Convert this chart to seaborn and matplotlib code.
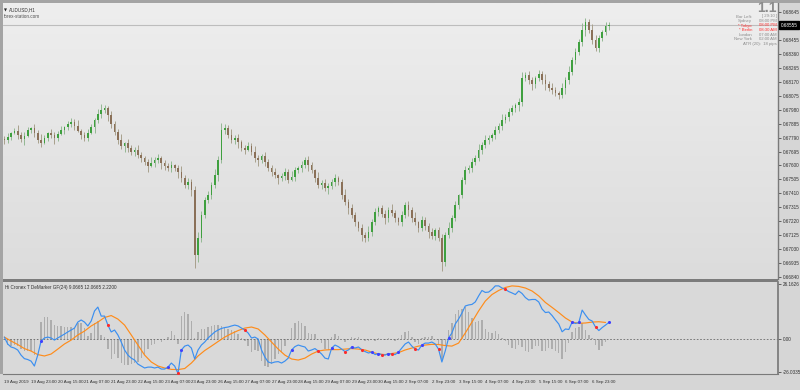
import numpy as np
import matplotlib
matplotlib.use("Agg")
import matplotlib.pyplot as plt
from matplotlib.patches import Rectangle
import seaborn as sns

# ---------------- data ----------------
open_first = 0.67780
closes_pips = [
 6777.4,6779.4,6782.1,6783.5,6780.8,6778.0,6780.1,6784.2,6785.5,6782.1,
 6777.4,6775.3,6778.7,6782.1,6780.8,6778.7,6781.4,6784.2,6786.2,6788.3,
 6789.6,6786.9,6783.5,6780.8,6778.7,6782.1,6786.2,6791.0,6795.1,6797.8,
 6799.2,6794.4,6788.3,6782.8,6777.4,6773.3,6775.3,6771.9,6769.2,6770.6,
 6767.1,6765.1,6762.4,6759.7,6761.7,6763.7,6765.1,6761.7,6759.7,6758.3,
 6760.3,6758.3,6755.6,6751.5,6746.7,6748.8,6743.3,6699.0,6710.6,6726.3,
 6736.5,6739.9,6746.7,6753.5,6763.7,6784.2,6785.5,6780.8,6777.4,6778.7,
 6776.0,6771.9,6770.6,6773.3,6769.2,6765.1,6763.7,6766.5,6762.4,6758.3,
 6755.6,6753.5,6751.5,6752.8,6755.6,6750.1,6752.2,6756.9,6758.3,6760.3,
 6763.7,6760.3,6756.9,6751.5,6746.7,6748.1,6744.7,6746.0,6748.8,6751.5,
 6748.8,6739.9,6735.1,6731.1,6726.3,6721.5,6717.4,6712.7,6710.6,6714.7,
 6721.5,6728.3,6731.1,6727.0,6724.2,6729.7,6727.7,6724.2,6721.5,6726.3,
 6733.1,6729.7,6724.2,6721.5,6717.4,6722.9,6718.8,6714.7,6712.0,6716.1,
 6710.6,6694.3,6712.7,6717.4,6724.2,6733.1,6739.9,6750.1,6756.9,6758.3,
 6762.4,6765.1,6770.6,6774.0,6777.4,6778.7,6780.8,6784.2,6786.9,6791.0,
 6793.0,6796.4,6799.2,6801.2,6803.2,6819.6,6821.6,6818.2,6815.5,6819.6,
 6822.3,6818.2,6815.5,6812.8,6811.4,6809.4,6808.0,6812.8,6818.2,6823.7,
 6831.8,6837.3,6844.1,6852.3,6857.7,6852.3,6845.5,6840.0,6846.8,6850.9,
 6855.0,6855.7]
wick_up = [
 2,3,1,2,4,2,3,2,1,3, 2,4,2,1,3,2,2,3,1,2, 3,2,4,1,2,3,2,1,3,4,
 2,1,3,2,2,4,1,3,2,2, 3,2,1,2,4,2,3,1,2,2, 3,1,2,4,2,3,2,3,4,3,
 2,3,2,4,3,5,3,2,4,2, 3,1,2,3,2,4,2,1,3,2, 2,3,1,2,3,2,4,2,1,3,
 2,3,2,1,4,2,3,2,2,3, 1,2,4,2,3,2,1,3,2,4, 2,3,1,2,3,2,4,2,1,3,
 2,3,2,4,1,3,2,2,3,1, 2,3,2,4,2,3,1,2,3,2, 3,2,4,2,3,2,1,3,2,4,
 2,3,2,1,3,4,2,3,2,1, 3,2,4,2,3,2,1,3,2,4, 2,3,2,5,3,2,4,3,2,1,
 3,2]
wick_dn = [
 3,2,2,1,3,2,4,1,2,3, 2,3,1,2,2,4,2,1,3,2, 2,3,1,3,2,2,1,4,2,3,
 2,4,3,2,3,2,4,3,2,3, 2,3,2,4,1,3,2,4,3,2, 3,2,4,3,2,3,4,9,5,3,
 2,2,3,2,4,2,3,2,2,3, 4,2,3,1,2,3,4,2,3,2, 3,2,4,2,3,2,1,3,2,3,
 2,4,2,3,2,3,2,4,2,3, 2,3,2,4,2,3,2,4,3,2, 3,2,3,2,4,3,2,3,2,3,
 2,4,3,2,3,2,3,4,2,3, 2,6,3,2,3,2,3,2,3,2, 3,2,2,3,2,3,2,3,2,3,
 2,3,2,3,4,3,2,3,4,3, 2,3,4,2,3,2,3,2,4,3, 2,3,2,3,4,2,3,2,3,2,
 2,3]
blue_line = [
 1.1,-2.8,-4.5,-5.1,-6.2,-9.1,-11.1,-11.6,-12.5,-15.3,
 -9.1,-1.1,0.6,1.1,0.6,-0.6,0.6,1.7,2.8,4.0,
 5.1,6.2,9.6,10.8,9.6,7.4,10.2,15.9,18.1,13.0,
 13.0,7.9,4.0,5.1,2.3,-1.7,-6.2,-9.1,-10.8,-11.9,
 -14.2,-15.3,-16.4,-15.9,-15.9,-16.4,-15.9,-17.0,-17.0,-15.9,
 -13.6,-15.3,-19.5,-6.2,-4.0,-3.4,-5.1,-11.3,-6.2,-3.4,
 -1.7,0.6,2.3,4.0,5.1,6.0,6.5,6.8,7.4,7.9,
 7.4,6.2,5.1,3.4,0.6,1.1,0.0,-6.2,-10.2,-13.0,
 -13.6,-13.0,-12.8,-13.6,-12.5,-10.8,-6.2,-4.3,-3.4,-4.0,
 -4.5,-6.8,-6.2,-5.4,-6.8,-8.5,-10.8,-11.3,-5.1,-3.4,
 -4.3,-5.7,-7.1,-6.2,-4.5,-5.1,-4.5,-6.0,-7.1,-7.9,
 -7.4,-8.8,-8.2,-8.8,-9.1,-8.2,-8.5,-8.8,-7.4,-5.1,
 -2.8,-1.7,-4.0,-5.7,-6.2,-3.4,-2.3,-2.3,-1.7,-2.8,
 -5.7,-13.0,-6.8,0.6,3.4,8.5,11.3,14.7,18.7,19.3,
 19.6,21.0,24.4,27.5,26.4,26.6,28.1,30.1,30.1,28.9,
 28.1,26.9,26.1,25.2,27.2,25.8,23.5,22.1,22.4,22.4,
 21.0,17.0,15.0,15.3,13.3,10.8,8.5,4.1,5.7,5.4,
 9.6,8.8,9.4,16.4,13.6,11.1,10.2,6.8,4.8,6.5,
 7.9,9.4]
orange_line = [  # one value every 2 bars
 1.1,-1.1,-3.1,-5.4,-6.8,-8.8,-9.6,-8.5,-5.7,-2.8,
 -0.6,2.3,4.5,7.4,9.6,12.2,13.3,11.3,7.9,2.3,
 -3.4,-9.1,-13.0,-15.3,-16.4,-17.2,-17.3,-16.7,-13.6,-9.6,
 -6.5,-4.0,-1.4,1.1,3.1,4.8,6.2,6.8,5.7,2.3,
 -1.7,-5.7,-9.1,-11.3,-11.9,-10.8,-8.5,-6.8,-6.2,-6.0,
 -6.0,-5.7,-5.4,-5.7,-6.2,-7.4,-8.5,-8.8,-8.2,-7.7,
 -6.2,-5.1,-4.0,-3.4,-3.0,-3.1,-3.7,-4.0,-2.3,3.4,
 9.6,15.9,21.5,25.2,27.5,29.2,30.1,29.8,28.9,27.2,
 24.4,20.7,17.9,15.0,11.9,9.6,8.9,9.1,9.6,9.8,
 9.4]
histogram = [
 0,-3.4,-4.1,-3.6,-3.7,-5.8,-6.8,-6.6,-6.8,-9.0,
 -0.4,9.7,12.2,12.2,10.9,7.8,7.6,7.1,6.7,6.8,
 6.8,6.4,8.8,8.9,6.1,1.7,3.4,8.9,10.2,2.5,
 1.0,-5.8,-11.2,-8.6,-10.8,-13.6,-14.5,-14.8,-13.9,-13.6,
 -13.0,-10.9,-8.8,-5.8,-3.5,-2.7,-0.7,-1.4,-0.7,1.1,
 4.3,2.3,-2.6,13.0,15.2,14.1,10.2,0.4,4.1,5.6,
 5.8,7.0,7.6,8.0,7.8,7.4,6.5,5.6,5.2,4.7,
 3.1,0.8,-1.3,-3.7,-7.4,-6.2,-6.8,-12.2,-15.0,-16.0,
 -14.3,-11.2,-8.5,-7.4,-4.1,-0.7,6.1,8.8,10.2,8.8,
 7.6,3.4,2.8,2.7,0,-2.4,-5.5,-6.2,1.1,3.1,
 2.0,0.2,-1.7,-0.8,1.1,0.5,1.4,-0.1,-1.1,-1.3,
 0,-1.0,0.4,-0.2,-0.4,0.4,-0.4,-1.0,0.4,2.2,
 4.1,4.7,1.3,-1.4,-2.6,0.4,1.3,1.1,1.6,0.3,
 -3.1,-11.5,-3.7,5.3,8.9,14.0,16.3,17.0,18.4,15.4,
 12.0,9.9,10.2,10.6,5.9,3.9,3.5,4.5,3.1,0.7,
 -1.3,-3.3,-4.8,-5.7,-3.1,-4.3,-6.5,-7.1,-5.8,-4.1,
 -4.1,-6.7,-6.8,-4.8,-5.5,-6.8,-7.8,-11.2,-7.4,-2.0,
 4.0,6.0,7.0,8.9,5.4,2.1,0.7,-3.5,-6.0,-3.7,
 -1.8,0]
date_labels = ["19 Aug 2019", "19 Aug 23:00", "20 Aug 15:00", "21 Aug 07:00", "21 Aug 23:00",
               "22 Aug 15:00", "23 Aug 07:00", "23 Aug 23:00", "26 Aug 15:00", "27 Aug 07:00",
               "27 Aug 23:00", "28 Aug 15:00", "29 Aug 07:00", "29 Aug 23:00", "30 Aug 15:00",
               "2 Sep 07:00", "2 Sep 23:00", "3 Sep 15:00", "4 Sep 07:00", "4 Sep 23:00",
               "5 Sep 15:00", "6 Sep 07:00", "6 Sep 23:00"]
price_ticks = [0.66840, 0.66935, 0.67030, 0.67125, 0.67220, 0.67315, 0.67410, 0.67505,
               0.67600, 0.67695, 0.67790, 0.67885, 0.67980, 0.68075, 0.68170, 0.68265,
               0.68360, 0.68455, 0.68645]
current_price = 0.68555
ind_max, ind_min = 26.1626, -26.0335

# ---------------- figure ----------------
sns.set_theme(style="white")
plt.rcParams['font.family'] = ['Liberation Sans', 'DejaVu Sans']
W, H = 800, 390
fig = plt.figure(figsize=(8, 3.9), dpi=100)
fig.patch.set_facecolor('#d6d6d6')

def fx(px): return px / W
def fy(py): return 1 - py / H

ax = fig.add_axes([fx(3), fy(279), fx(775), 276 / H])
ax2 = fig.add_axes([fx(3), fy(374), fx(775), 92 / H], sharex=ax)
ax.set_facecolor('#e4e4e4')
ax2.set_facecolor('#d9d9d9')

PLO, PHI = 0.66827, 0.68706
XLO, XHI = -0.4, -0.4 + 775 / 3.34
grad = np.linspace(0, 1, 256).reshape(-1, 1)
ax.imshow(grad, extent=[XLO, XHI, PLO, PHI], aspect='auto', origin='upper',
          cmap=matplotlib.colors.LinearSegmentedColormap.from_list('g', ['#eeeeee', '#dcdcdc']),
          zorder=0)

n = len(closes_pips)
xs = np.arange(n)
closes = np.array(closes_pips) / 10000.0
opens = np.concatenate([[open_first], closes[:-1]])
hi = np.maximum(opens, closes) + np.array(wick_up) / 10000.0
lo = np.minimum(opens, closes) - np.array(wick_dn) / 10000.0
bull = closes >= opens

ax.vlines(xs[bull], lo[bull], hi[bull], color='#93b893', lw=0.7, zorder=2)
ax.vlines(xs[~bull], lo[~bull], hi[~bull], color='#a8a08c', lw=0.7, zorder=2)
body_h = np.maximum(np.abs(closes - opens), 0.00003)
ax.bar(xs[bull], body_h[bull], bottom=np.minimum(opens, closes)[bull], width=0.5,
       color='#3fa03f', linewidth=0, zorder=3)
ax.bar(xs[~bull], body_h[~bull], bottom=np.minimum(opens, closes)[~bull], width=0.5,
       color='#8a7058', linewidth=0, zorder=3)
ax.axhline(current_price, color='#bdbdbd', lw=0.8, zorder=1)

ax.set_xlim(XLO, XHI)
ax.set_ylim(PLO, PHI)
ax.yaxis.tick_right()
ax.set_yticks(price_ticks)
ax.set_yticklabels([f"{p:.5f}" for p in price_ticks])
ax.tick_params(axis='y', labelsize=3.3, colors='#303030', length=2, width=0.5, pad=1.2)
ax.tick_params(axis='x', bottom=False, labelbottom=False)
for s in ax.spines.values():
    s.set_visible(False)
ax.spines['right'].set_visible(True)
ax.spines['right'].set_color('#7a7a7a')
ax.spines['right'].set_linewidth(1.0)
ax.text(1.0035, (current_price - PLO) / (PHI - PLO), f"{current_price:.5f}",
        transform=ax.transAxes, fontsize=3.3, color='white', va='center', ha='left',
        bbox=dict(boxstyle='square,pad=0.3', fc='black', ec='black'))

# ---------------- indicator ----------------
ax2.bar(xs, histogram, width=0.42, color='#adadad', linewidth=0, zorder=1)
ax2.axhline(0, color='#6a6a6a', lw=0.6, ls=(0, (2, 2)), zorder=2)
ox = np.arange(0, 2 * len(orange_line), 2)
sns.lineplot(x=ox, y=orange_line, ax=ax2, color='#ff8c1a', lw=0.85, zorder=3)
sns.lineplot(x=xs, y=blue_line, ax=ax2, color='#3b8ff0', lw=0.85, zorder=4)

bl = np.array(blue_line)
orr = np.interp(xs, ox, orange_line)
d = bl - orr
up_i = [i for i in range(1, n) if d[i - 1] < 0 <= d[i]]
dn_i = [i for i in range(1, n) if d[i - 1] > 0 >= d[i]]
sns.scatterplot(x=xs[up_i], y=bl[up_i], ax=ax2, color='#4040ff', s=5, linewidth=0, zorder=5)
sns.scatterplot(x=xs[dn_i], y=bl[dn_i], ax=ax2, color='#ff2a2a', s=5, linewidth=0, zorder=5)

ylo, yhi = -19.8, 32.3
ax2.set_ylim(ylo, yhi)
ax2.yaxis.tick_right()
ax2.set_yticks([yhi - 1.2, 0, ylo + 1.2])
ax2.set_yticklabels([f"{ind_max:.4f}", "0.00", f"{ind_min:.4f}"])
ax2.tick_params(axis='y', labelsize=3.3, colors='#303030', length=2, width=0.5, pad=1.2)
pos = np.arange(0, 8 * len(date_labels), 8)
ax2.set_xticks(pos)
ax2.set_xticklabels(date_labels)
ax2.tick_params(axis='x', labelsize=3.2, colors='#303030', length=2.5, width=0.5, pad=1.8,
                direction='out')
for lbl in ax2.get_xticklabels():
    lbl.set_ha('left')
ax2.set_xlabel('')
ax2.set_ylabel('')
for s in ax2.spines.values():
    s.set_visible(False)
ax2.spines['right'].set_visible(True)
ax2.spines['right'].set_color('#7a7a7a')
ax2.spines['bottom'].set_visible(True)
ax2.spines['bottom'].set_color('#7a7a7a')
ax2.spines['bottom'].set_linewidth(0.8)

# separators / borders
fig.add_artist(Rectangle((fx(0), fy(282)), fx(778), 3 / H, transform=fig.transFigure,
                         fc='#7c7c7c', ec='none'))
fig.add_artist(Rectangle((0, fy(3)), 1, 3 / H, transform=fig.transFigure,
                         fc='#a4a4a4', ec='none'))
fig.add_artist(Rectangle((0, fy(374)), fx(3), 374 / H, transform=fig.transFigure,
                         fc='#a4a4a4', ec='none'))

# texts
fig.text(fx(4), fy(10), "\u25BC", fontsize=2.8, color='#202020', va='center',
         family='DejaVu Sans')
fig.text(fx(9), fy(10), "AUDUSD,H1", fontsize=3.3, color='#303030', va='center')
fig.text(fx(4), fy(16), "forex-station.com", fontsize=3.3, color='#505050', va='center')
fig.text(fx(5), fy(287), "Hi Cronex T DeMarker GF(24) 9.0665 12.0665 2.2200",
         fontsize=3.3, color='#303030', va='center')

fig.text(fx(777), fy(8.5), "1.1", fontsize=10, color='#8c8c8c', va='center', ha='right',
         fontweight='bold')
rows = [("Bar Left:", "[ 29:10 ]", '#8c8c8c', 16.5),
        ("Sydney", "08:00 PM", '#8c8c8c', 21),
        ("* Tokyo", "08:00 PM", '#ff3030', 25.5),
        ("* Berlin", "08:30 AM", '#ff3030', 30),
        ("London", "07:00 AM", '#8c8c8c', 34.5),
        ("New York", "02:00 AM", '#8c8c8c', 39)]
for a, b, c, yy in rows:
    fig.text(fx(752), fy(yy), a, fontsize=3.1, color=c, va='center', ha='right')
    fig.text(fx(777), fy(yy), b, fontsize=3.1, color=c, va='center', ha='right')
fig.text(fx(777), fy(43.5), "ATR (20):  18 pips", fontsize=3.1, color='#8c8c8c', va='center',
         ha='right')

fig.savefig("out.png", dpi=100, facecolor=fig.get_facecolor())
